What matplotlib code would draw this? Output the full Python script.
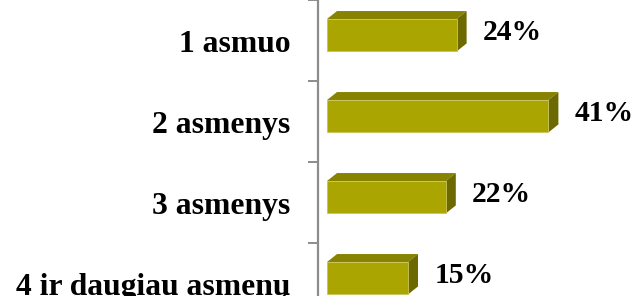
import matplotlib
matplotlib.use("Agg")
import matplotlib.pyplot as plt
from matplotlib.patches import Polygon
import numpy as np

categories = ["1 asmuo", "2 asmenys", "3 asmenys", "4 ir daugiau asmenų"]
values = [24, 41, 22, 15]
value_labels = ["24%", "41%", "22%", "15%"]

W, H = 635, 296
fig = plt.figure(figsize=(W / 100, H / 100), dpi=100)
# axes spans from x=318px to right edge; y from top to 28px below the figure bottom
ax = fig.add_axes([318 / W, -28 / H, 1 - 318 / W, 324 / H])

px_per_unit_x = 5.4
xmin = -9 / px_per_unit_x
xmax = xmin + (W - 318) / px_per_unit_x
ax.set_xlim(xmin, xmax)
ax.set_ylim(3.5, -0.5)

front = "#aaa500"
top = "#878300"
side = "#6c6900"

dx = 10 / px_per_unit_x      # depth in data units (x)
dy = 8 / 81                  # depth in data units (y)
h = 0.40
off = -0.065

for i, v in enumerate(values):
    yc = i + off
    y0, y1 = yc - h / 2, yc + h / 2  # y0 is the top (inverted axis)
    ax.add_patch(Polygon([(0, y0), (v, y0), (v + dx, y0 - dy), (dx, y0 - dy)],
                         closed=True, facecolor=top, edgecolor="none"))
    ax.add_patch(Polygon([(v, y0), (v + dx, y0 - dy), (v + dx, y1 - dy), (v, y1)],
                         closed=True, facecolor=side, edgecolor="none"))
    ax.barh(yc, v, height=h, left=0, color=front, edgecolor="#c8c45a", linewidth=0.6)
    ax.text(v + dx + 3.0, yc - dy / 2 + 0.015, value_labels[i], ha="left", va="center",
            fontsize=21.3, fontweight="bold", family="Liberation Serif", color="black")

for s in ["top", "right", "bottom"]:
    ax.spines[s].set_visible(False)
ax.spines["left"].set_color("#8c8c8c")
ax.spines["left"].set_linewidth(1.6)

ax.set_xticks([])
ax.set_yticks(range(len(categories)))
ax.set_yticklabels(categories, fontsize=22.8, fontweight="bold", family="Liberation Serif")
ax.tick_params(axis="y", which="major", length=0, pad=20)
ax.set_yticks([-0.5, 0.5, 1.5, 2.5, 3.5], minor=True)
ax.tick_params(axis="y", which="minor", length=7.2, width=1.4, color="#8c8c8c")

fig.savefig("out.png", dpi=100)
